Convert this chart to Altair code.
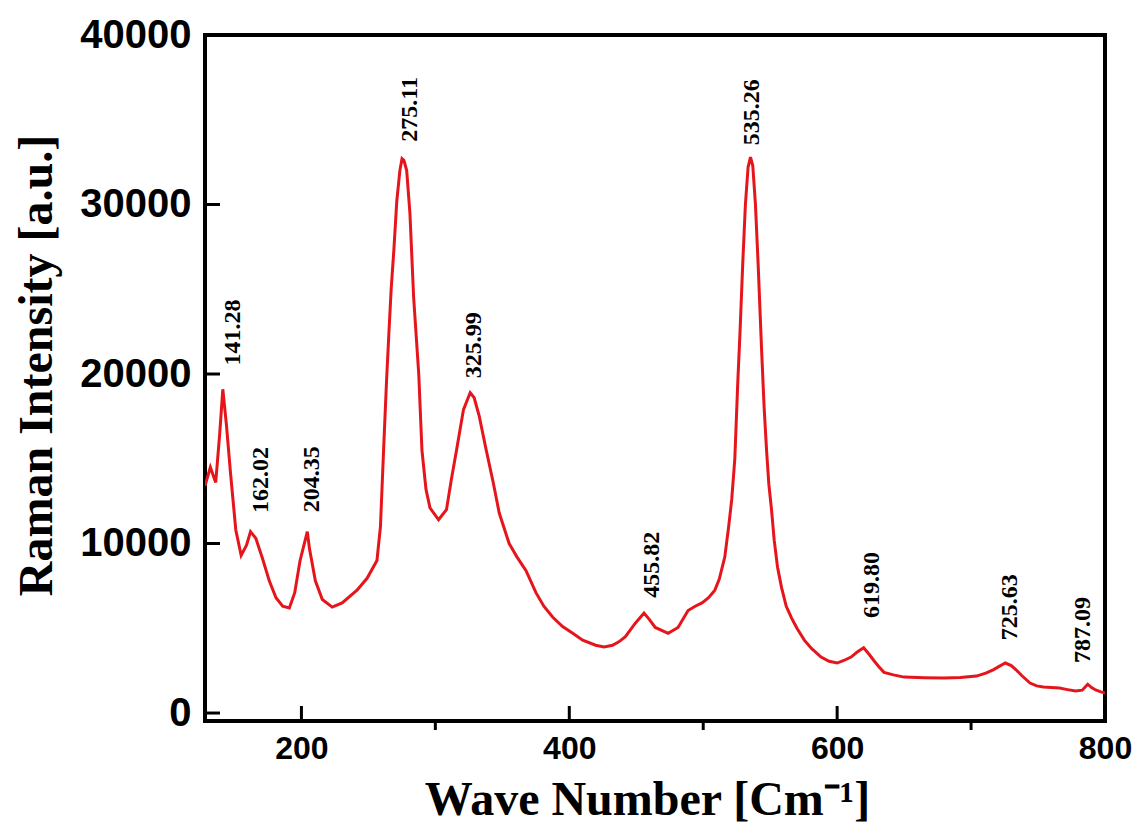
import altair as alt
import pandas as pd

# Raman spectrum (wave number in cm^-1, intensity in a.u.)
wave_number = [128, 132, 136, 139, 141.3, 144, 147, 151, 155, 159, 162, 166, 171, 176, 181, 186, 191, 195, 199,
               204.4, 206, 210.4, 215.6, 223, 230.4, 241.5, 249, 256.4, 259, 261.6, 263.5, 265.3, 267, 269,
               271.2, 273.5, 275.1, 276.5, 278.6, 281, 283.8, 287.6, 290, 293, 296, 302.4, 308.3, 312, 315.8,
               321, 326, 329, 332.8, 338, 343.2, 347.7, 355.1, 361, 367.7, 375.1, 381, 387.7, 395, 402.6, 410,
               419.7, 426, 432.3, 437, 441.9, 449.3, 455.8, 460, 464.2, 473.8, 481.2, 488.7, 494, 499.1, 504,
               508.7, 512, 516.1, 519, 521.3, 523.6, 525.8, 527.5, 529.5, 531.5, 533.5, 535.3, 537, 539, 541,
               543.6, 545.5, 547.3, 549, 551, 553, 555.5, 558.5, 562, 566, 570, 575.5, 581, 588, 594, 600, 605,
               610.4, 615, 619.8, 624, 627.4, 631, 635, 642, 650, 665, 680, 692, 704, 711, 716.5, 721, 725.6,
               730, 733.6, 738, 744, 749, 754, 760, 766, 772, 778, 783, 787.1, 790, 793, 797, 800]
intensity = [13400, 14500, 13600, 16500, 19100, 17000, 14200, 10800, 9300, 9900, 10700, 10300, 9100, 7800, 6800,
             6300, 6200, 7100, 9000, 10700, 9700, 7800, 6700, 6250, 6500, 7250, 7950, 9000, 11000, 16000, 19500,
             22400, 25000, 27300, 30200, 32000, 32700, 32600, 32000, 29500, 24500, 20000, 15500, 13200, 12100,
             11400, 12000, 13800, 15500, 17900, 18900, 18600, 17500, 15500, 13600, 11800, 10000, 9200, 8400,
             7100, 6300, 5650, 5100, 4700, 4300, 4000, 3900, 4000, 4200, 4500, 5300, 5900, 5500, 5050, 4700,
             5050, 6050, 6300, 6500, 6800, 7250, 7900, 9200, 11000, 12600, 15000, 19500, 22500, 26500, 30000,
             32200, 32800, 32300, 30000, 26500, 21400, 18000, 15500, 13500, 12000, 10200, 8600, 7400, 6300, 5600,
             5000, 4300, 3800, 3300, 3050, 2950, 3100, 3300, 3600, 3850, 3450, 3100, 2750, 2400, 2250, 2120,
             2080, 2060, 2100, 2180, 2350, 2550, 2750, 2950, 2800, 2550, 2200, 1770, 1600, 1530, 1500, 1470,
             1380, 1300, 1350, 1700, 1500, 1360, 1250, 1180]

# Peak annotations: text, position (wave number) and intensity where the text starts
peak_labels = ["141.28", "162.02", "204.35", "275.11", "325.99", "455.82", "535.26", "619.80", "725.63", "787.09"]
label_x = [148.8, 169.6, 208.1, 280.9, 329.1, 462.0, 536.2, 626.0, 729.1, 783.3]
label_y = [20500, 11800, 11850, 33700, 19750, 6800, 33500, 5600, 4300, 2950]

x_major_ticks = [200, 400, 600]
x_minor_ticks = [300, 500, 700]
x_label_values = [200, 400, 600, 800]
y_tick_values = [0, 10000, 20000, 30000, 40000]

X_DOMAIN = [128, 800]
Y_DOMAIN = [-470, 40000]
W, H = 900, 686

spec = pd.DataFrame({"wn": wave_number, "inten": intensity})
labels = pd.DataFrame({"text": peak_labels, "x": label_x, "y": label_y})
xmaj = pd.DataFrame({"v": x_major_ticks})
xmin = pd.DataFrame({"v": x_minor_ticks})
ytk = pd.DataFrame({"v": y_tick_values})

xscale = alt.Scale(domain=X_DOMAIN, nice=False, zero=False)
yscale = alt.Scale(domain=Y_DOMAIN, nice=False, zero=False)

line = alt.Chart(spec).mark_line(color="#e5151b", strokeWidth=3, clip=True).encode(
    x=alt.X("wn:Q", scale=xscale,
            axis=alt.Axis(values=x_label_values, title="Wave Number [Cm⁻¹]", ticks=False, domain=False,
                          grid=False, labelFlush=False, labelPadding=12, labelFont="Liberation Sans",
                          labelFontWeight="bold", labelFontSize=32, labelColor="black",
                          titleFont="Liberation Serif", titleFontWeight="bold", titleFontSize=48,
                          titleColor="black", titleX=442, titleY=93, titleAnchor="start",
                          titleAlign="center", titleBaseline="alphabetic")),
    y=alt.Y("inten:Q", scale=yscale,
            axis=alt.Axis(values=y_tick_values, format="d", title="Raman Intensity [a.u.]", ticks=False,
                          domain=False, grid=False, labelPadding=14, labelFont="Liberation Sans",
                          labelFontWeight="bold", labelFontSize=40, labelColor="black",
                          titleFont="Liberation Serif", titleFontWeight="bold", titleFontSize=48,
                          titleColor="black", titleX=-168, titleY=330, titleAngle=270,
                          titleAlign="center", titleBaseline="middle")),
)

text = alt.Chart(labels).mark_text(angle=270, align="left", baseline="middle", font="Liberation Serif",
                                   fontWeight="bold", fontSize=24, color="black").encode(
    x=alt.X("x:Q", scale=xscale), y=alt.Y("y:Q", scale=yscale), text="text:N")

xmaj_rule = alt.Chart(xmaj).mark_rule(color="black", strokeWidth=3).encode(
    x=alt.X("v:Q", scale=xscale), y=alt.value(H), y2=alt.value(H - 15))
xmin_rule = alt.Chart(xmin).mark_rule(color="black", strokeWidth=3).encode(
    x=alt.X("v:Q", scale=xscale), y=alt.value(H), y2=alt.value(H + 9))
y_rule = alt.Chart(ytk).mark_rule(color="black", strokeWidth=3).encode(
    y=alt.Y("v:Q", scale=yscale), x=alt.value(0), x2=alt.value(15))

chart = alt.layer(line, text, xmaj_rule, xmin_rule, y_rule).properties(
    width=W, height=H,
    autosize=alt.AutoSizeParams(type="none"),
    padding={"left": 197, "top": 27, "right": 28, "bottom": 107},
    background="white",
).configure_view(stroke="black", strokeWidth=4)

chart.save("out.html", embed_options={"renderer": "svg", "actions": False})
